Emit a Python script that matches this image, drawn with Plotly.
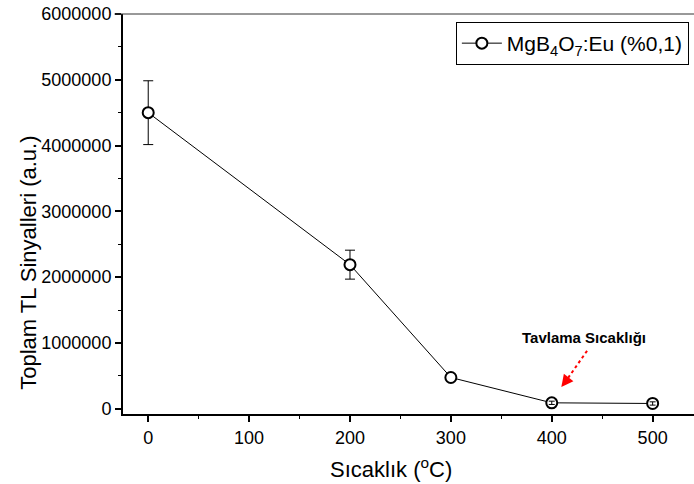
import plotly.graph_objects as go

# Annealing temperature (°C) vs. total TL signal of MgB4O7:Eu (0.1 %)
temperature = [0, 200, 300, 400, 500]
tl_signal = [4500000, 2190000, 475000, 90000, 80000]
tl_error = [485000, 220000, 20000, 25000, 25000]

x_ticks = [0, 100, 200, 300, 400, 500]
y_ticks = [0, 1000000, 2000000, 3000000, 4000000, 5000000, 6000000]

FONT = "Liberation Sans, Arial, sans-serif"

fig = go.Figure()

fig.add_trace(go.Scatter(
    x=temperature, y=tl_signal,
    mode="lines+markers",
    name="MgB<sub>4</sub>O<sub>7</sub>:Eu (%0,1)",
    line=dict(color="black", width=1),
    marker=dict(symbol="circle", size=11, color="white",
                line=dict(color="black", width=2)),
    error_y=dict(type="data", array=tl_error, visible=True,
                 color="black", thickness=1, width=5),
))

# error bars of the low-signal points drawn over their markers
fig.add_trace(go.Scatter(
    x=temperature[3:], y=tl_signal[3:],
    mode="markers", showlegend=False, hoverinfo="skip",
    marker=dict(size=1, opacity=0),
    error_y=dict(type="data", array=tl_error[3:], visible=True,
                 color="black", thickness=1, width=3),
))

# annotation for the annealing temperature with a dotted red pointer
fig.add_annotation(x=432, y=1080000, text="<b>Tavlama Sıcaklığı</b>",
                   showarrow=False, font=dict(family=FONT, size=15, color="black"))
fig.add_shape(type="line", x0=435, y0=880000, x1=414, y1=420000,
              line=dict(color="red", width=2, dash="dot"))
fig.add_annotation(x=409.5, y=330000, ax=416, ay=460000,
                   axref="x", ayref="y", text="", showarrow=True,
                   arrowhead=2, arrowsize=1.6, arrowwidth=1.5, arrowcolor="red")

# thin frame line along the top of the plot
fig.add_shape(type="line", xref="paper", yref="paper", x0=-0.015, x1=1, y0=1, y1=1,
              line=dict(color="#333333", width=1))

fig.update_layout(
    width=694, height=484,
    margin=dict(l=123, r=0, t=14, b=70),
    paper_bgcolor="white", plot_bgcolor="white",
    font=dict(family=FONT, size=18, color="black"),
    showlegend=True,
    legend=dict(x=0.991, y=0.98, xanchor="right", yanchor="top",
                bordercolor="black", borderwidth=1, bgcolor="white",
                font=dict(family=FONT, size=21, color="black"),
                itemwidth=40, tracegroupgap=0),
    xaxis=dict(
        range=[-25, 541], showgrid=False, zeroline=False,
        showline=True, linecolor="black", linewidth=2,
        tickmode="array", tickvals=x_ticks, ticktext=[str(v) for v in x_ticks],
        ticks="outside", ticklen=6, tickwidth=1.5, tickcolor="black",
        minor=dict(ticks="outside", dtick=50, tick0=0, ticklen=3, tickcolor="black", tickwidth=1),
        tickfont=dict(family=FONT, size=18),
    ),
    yaxis=dict(
        range=[-80000, 6000000], showgrid=False, zeroline=False,
        showline=True, linecolor="black", linewidth=2,
        tickmode="array", tickvals=y_ticks, ticktext=[str(v) for v in y_ticks],
        ticks="outside", ticklen=6, tickwidth=1.5, tickcolor="black",
        minor=dict(ticks="outside", dtick=500000, tick0=0, ticklen=3, tickcolor="black", tickwidth=1),
        tickfont=dict(family=FONT, size=18),
    ),
)

fig.add_annotation(xref="paper", yref="paper", x=0.47, y=-0.135,
                   text="Sıcaklık (<sup>o</sup>C)", showarrow=False,
                   yanchor="middle", font=dict(family=FONT, size=22))
fig.add_annotation(xref="paper", yref="paper", x=-0.19, y=0.378,
                   text="Toplam TL Sinyalleri (a.u.)", showarrow=False,
                   textangle=-90, font=dict(family=FONT, size=22))

fig.write_html("out.html")
